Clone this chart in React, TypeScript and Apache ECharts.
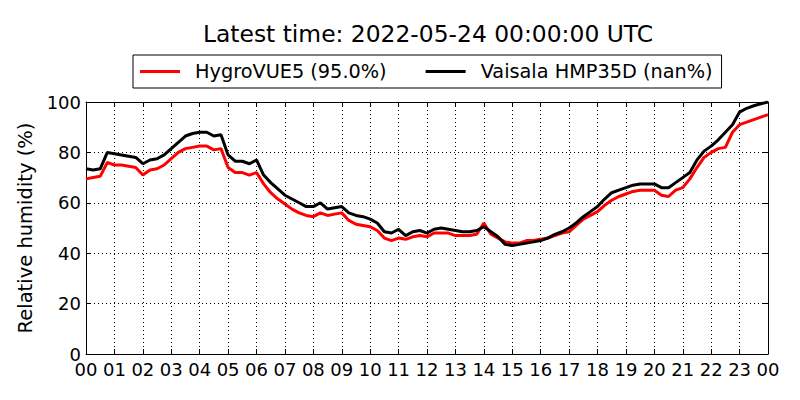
import React, { useEffect, useRef } from "react";
import * as echarts from "echarts";

const hours: number[] = [
  0, 0.25, 0.5, 0.75, 1, 1.25, 1.5, 1.75, 2, 2.25, 2.5, 2.75, 3, 3.25, 3.5, 3.75,
  4, 4.25, 4.5, 4.75, 5, 5.25, 5.5, 5.75, 6, 6.25, 6.5, 6.75, 7, 7.25, 7.5, 7.75,
  8, 8.25, 8.5, 8.75, 9, 9.25, 9.5, 9.75, 10, 10.25, 10.5, 10.75, 11, 11.25, 11.5, 11.75,
  12, 12.25, 12.5, 12.75, 13, 13.25, 13.5, 13.75, 14, 14.25, 14.5, 14.75, 15, 15.25, 15.5, 15.75,
  16, 16.25, 16.5, 16.75, 17, 17.25, 17.5, 17.75, 18, 18.25, 18.5, 18.75, 19, 19.25, 19.5, 19.75,
  20, 20.25, 20.5, 20.75, 21, 21.25, 21.5, 21.75, 22, 22.25, 22.5, 22.75, 23, 23.25, 23.5, 23.75, 24,
];

const hygroVUE5: number[] = [
  69.5, 70, 70.5, 76, 75, 75, 74.5, 74, 71, 73, 73.5, 75, 77.5, 80, 81.5, 82,
  82.5, 82.5, 81, 81.5, 74, 72, 72, 71, 72, 67.5, 64, 61.5, 59.5, 57.5, 56, 55,
  54.5, 56, 55, 55.5, 56, 53, 51.5, 51, 50.5, 49, 46, 45, 46, 45.5, 46.5, 47,
  46.5, 48, 48, 48, 47, 47, 47, 47.5, 52, 47.5, 46, 44.5, 44, 44, 45, 45,
  45.5, 46, 47, 48, 48.5, 51, 53.5, 55, 56.5, 59, 61, 62.5, 63.5, 64.5, 65, 65,
  65, 63, 62.5, 65, 66, 69.5, 74, 78, 80, 81.5, 82, 88, 91, 92, 93, 94, 95,
];

const hmp35d: number[] = [
  73.5, 73, 73.5, 80, 79.5, 79, 78.5, 78, 75.5, 77, 77.5, 79, 81.5, 84, 86.5, 87.5,
  88, 88, 86.5, 87, 79, 76.5, 76.5, 75.5, 77, 71, 68, 65.5, 63, 61.5, 60, 58.5,
  58.5, 60, 57.5, 58, 58.5, 56, 55, 54.5, 53.5, 52, 48.5, 48, 49.5, 47, 48.5, 49,
  48, 49.5, 50, 49.5, 49, 48.5, 48.5, 49, 50.5, 48.5, 46.5, 43.5, 43, 43.5, 44, 44.5,
  45, 46, 47.5, 48.5, 50, 52, 54.5, 56.5, 58.5, 61.5, 64, 65, 66, 67, 67.5, 67.5,
  67.5, 66, 66, 68, 70, 72, 77, 80.5, 82.5, 85, 88, 91, 96, 97.5, 98.5, 99.3, 100,
];

const hourLabels: string[] = [
  "00", "01", "02", "03", "04", "05", "06", "07", "08", "09", "10", "11", "12",
  "13", "14", "15", "16", "17", "18", "19", "20", "21", "22", "23", "00",
];

const titleText = "Latest time: 2022-05-24 00:00:00 UTC";
const nameHygro = "HygroVUE5 (95.0%)";
const nameVaisala = "Vaisala HMP35D (nan%)";

const FONT = "DejaVu Sans";

export default function App() {
  const ref = useRef<HTMLDivElement>(null);
  useEffect(() => {
    if (!ref.current) return;
    const chart = echarts.init(ref.current, undefined, { renderer: "svg" });
    const pair = (ys: number[]) => hours.map((h, i) => [h, ys[i]]);
    const tick = { show: true, inside: true, length: 5, lineStyle: { color: "#000", width: 1 } };
    const axLine = { show: true, onZero: false, lineStyle: { color: "#000", width: 1 } };
    chart.setOption({
      animation: false,
      backgroundColor: "#fff",
      textStyle: { fontFamily: FONT },
      title: {
        text: titleText,
        left: 423,
        textAlign: "center",
        top: 17,
        textStyle: { fontFamily: FONT, fontSize: 23.4, fontWeight: "normal", color: "#000" },
      },
      legend: {
        left: 133,
        top: 55,
        padding: [7, 9, 7, 7],
        borderColor: "#000",
        borderWidth: 1,
        borderRadius: 0,
        itemGap: 39,
        itemWidth: 40,
        itemHeight: 3,
        icon: "rect",
        textStyle: { fontFamily: FONT, fontSize: 19.3, color: "#000", padding: [0, 0, 0, 10] },
        data: [nameHygro, nameVaisala],
      },
      grid: { left: 86, right: 32, top: 102, bottom: 46 },
      xAxis: [
        {
          type: "value",
          min: 0,
          max: 24,
          interval: 1,
          axisLine: axLine,
          axisTick: tick,
          axisLabel: {
            color: "#000",
            fontFamily: FONT,
            fontSize: 18,
            margin: 6,
            formatter: (v: number) => hourLabels[Math.round(v)] ?? "",
          },
          splitLine: { show: true, lineStyle: { color: "#000", width: 1, type: [1, 3] } },
        },
        {
          type: "value",
          position: "top",
          min: 0,
          max: 24,
          interval: 1,
          axisLine: axLine,
          axisTick: tick,
          axisLabel: { show: false },
          splitLine: { show: false },
        },
      ],
      yAxis: [
        {
          type: "value",
          min: 0,
          max: 100,
          interval: 20,
          name: "Relative humidity (%)",
          nameLocation: "middle",
          nameGap: 50,
          nameTextStyle: { color: "#000", fontFamily: FONT, fontSize: 19.5 },
          axisLine: axLine,
          axisTick: tick,
          axisLabel: { color: "#000", fontFamily: FONT, fontSize: 18, margin: 5 },
          splitLine: { show: true, lineStyle: { color: "#000", width: 1, type: [1, 3] } },
        },
        {
          type: "value",
          position: "right",
          min: 0,
          max: 100,
          interval: 20,
          axisLine: axLine,
          axisTick: tick,
          axisLabel: { show: false },
          splitLine: { show: false },
        },
      ],
      series: [
        {
          name: nameHygro,
          type: "line",
          data: pair(hygroVUE5),
          showSymbol: false,
          lineStyle: { color: "#ff0000", width: 3 },
          itemStyle: { color: "#ff0000" },
        },
        {
          name: nameVaisala,
          type: "line",
          data: pair(hmp35d),
          showSymbol: false,
          lineStyle: { color: "#000000", width: 3 },
          itemStyle: { color: "#000000" },
        },
      ],
    });
    return () => chart.dispose();
  }, []);
  return <div ref={ref} style={{ width: 800, height: 400, position: "absolute", left: 0, top: 0 }} />;
}
